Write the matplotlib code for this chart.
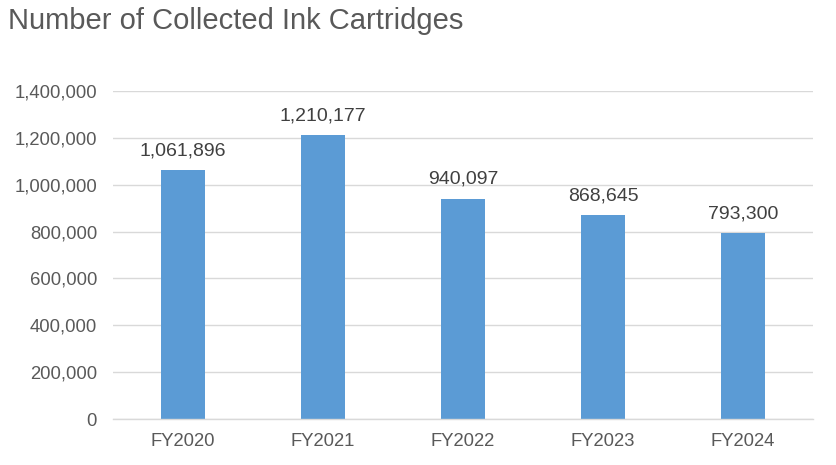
import matplotlib
matplotlib.use("Agg")
import matplotlib.pyplot as plt
from matplotlib.ticker import FuncFormatter

categories = ["FY2020", "FY2021", "FY2022", "FY2023", "FY2024"]
values = [1061896, 1210177, 940097, 868645, 793300]
yticks = [0, 200000, 400000, 600000, 800000, 1000000, 1200000, 1400000]

plt.rcParams['font.family'] = ['Liberation Sans', 'DejaVu Sans']
text_color = "#595959"
bar_color = "#5B9BD5"
grid_color = "#D9D9D9"

fig = plt.figure(figsize=(8.36, 4.65), dpi=100)
ax = fig.add_axes([113/836, 46/465, 700/836, 328/465])

x = list(range(len(categories)))
ax.bar(x, values, width=0.314, color=bar_color, zorder=3)

ax.set_xlim(-0.5, len(categories) - 0.5)
ax.set_ylim(0, 1400000)
ax.set_yticks(yticks)
ax.yaxis.set_major_formatter(FuncFormatter(lambda v, p: f"{int(v):,}"))
ax.set_xticks(x)
ax.set_xticklabels(categories)

ax.grid(axis='y', color=grid_color, linewidth=1, zorder=0)
for s in ["top", "right", "left"]:
    ax.spines[s].set_visible(False)
ax.spines["bottom"].set_color(grid_color)
ax.spines["bottom"].set_linewidth(1)
ax.spines["bottom"].set_zorder(4)

ax.tick_params(axis='y', length=0, pad=11.5, labelsize=13.3, labelcolor=text_color)
ax.tick_params(axis='x', length=0, pad=10, labelsize=13.3, labelcolor=text_color)

for xi, v in zip(x, values):
    ax.annotate(f"{v:,}", (xi, v), xytext=(0, 14), textcoords="offset points",
                ha="center", va="center", fontsize=14, color="#404040")

fig.text(8/836, 1 - 21/465, "Number of Collected Ink Cartridges", fontsize=21,
         color=text_color, ha="left", va="center")

fig.savefig("out.png", dpi=100)
